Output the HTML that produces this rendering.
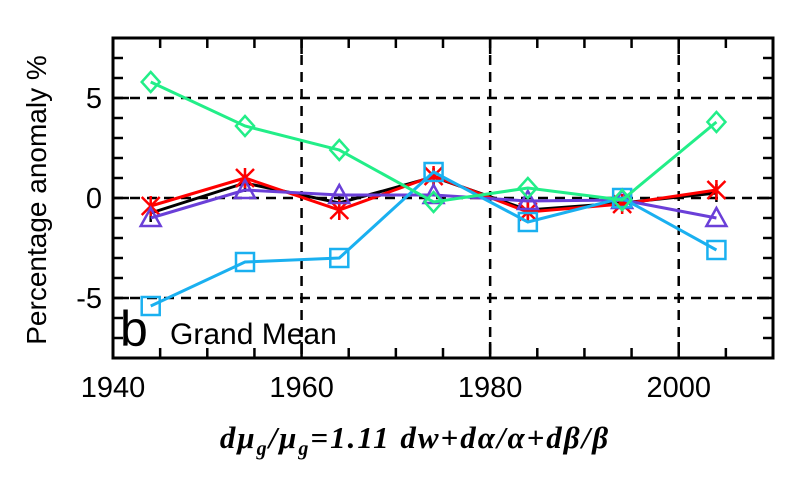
<!DOCTYPE html>
<html><head><meta charset="utf-8"><style>
body{margin:0;background:#fff}
svg text{font-family:"Liberation Sans",sans-serif}
</style></head><body>
<svg id="chart" width="794" height="481" viewBox="0 0 794 481" xmlns="http://www.w3.org/2000/svg">
<g id="grid"></g>
<g id="series"></g>
<g id="axes"></g>
<text x="120" y="346" font-size="50">b</text>
<text x="170" y="344" font-size="30">Grand Mean</text>
<text transform="translate(46,200) rotate(-90)" text-anchor="middle" font-size="28">Percentage anomaly %</text>
<text x="415" y="448" text-anchor="middle" font-size="31" font-weight="bold" font-style="italic" letter-spacing="2" style="font-family:'Liberation Serif',serif">dμ<tspan font-size="20" dy="7">g</tspan><tspan dy="-7">/μ</tspan><tspan font-size="20" dy="7">g</tspan><tspan dy="-7">=1.11 dw+dα/α+dβ/β</tspan></text>
</svg>
<script>
const years=[1944,1954,1964,1974,1984,1994,2004];
const greenVals=[5.8,3.6,2.4,-0.2,0.5,-0.1,3.8];
const blueVals=[-5.4,-3.2,-3.0,1.3,-1.2,0,-2.6];
const redVals=[-0.4,1.0,-0.6,1.1,-0.7,-0.3,0.4];
const blackVals=[-0.75,0.75,-0.25,1.05,-0.6,-0.25,0.25];
const purpleVals=[-1.0,0.4,0.15,0.15,-0.15,-0.1,-1.0];
const xTicks=[1940,1960,1980,2000];
const yTicks=[-5,0,5];
const L=113,R=773,T=38,B=358,X0=1940,X1=2010,Y0=-8,Y1=8;
const sx=v=>L+(v-X0)/(X1-X0)*(R-L);
const sy=v=>B-(v-Y0)/(Y1-Y0)*(B-T);
const NS="http://www.w3.org/2000/svg";
function mk(tag,attrs,parent){const e=document.createElementNS(NS,tag);for(const k in attrs)e.setAttribute(k,attrs[k]);parent.appendChild(e);return e;}
const grid=document.getElementById('grid'),axes=document.getElementById('axes'),ser=document.getElementById('series');
xTicks.forEach(t=>{if(t>X0){const l=mk('line',{x1:sx(t),x2:sx(t),y1:T,y2:B,stroke:'#000','stroke-width':2.5,'stroke-dasharray':'10,7'},grid);

}
const tx=mk('text',{x:sx(t),y:397,'text-anchor':'middle','font-size':29},axes);tx.textContent=t;

});
yTicks.forEach(t=>{const l=mk('line',{x1:L,x2:R,y1:sy(t),y2:sy(t),stroke:'#000','stroke-width':2.5,'stroke-dasharray':'10,7'},grid);


const tx=mk('text',{x:102,y:sy(t)+10,'text-anchor':'end','font-size':29},axes);tx.textContent=t;

});
for(let y=X0+5;y<X1;y+=5){const len=(y%20===0)?16:10;
mk('line',{x1:sx(y),x2:sx(y),y1:B,y2:B-len,stroke:'#000','stroke-width':2.5},axes);
mk('line',{x1:sx(y),x2:sx(y),y1:T,y2:T+len,stroke:'#000','stroke-width':2.5},axes);}
for(let v=Y0+1;v<Y1;v++){const len=(v%5===0)?16:10;
mk('line',{x1:L,x2:L+len,y1:sy(v),y2:sy(v),stroke:'#000','stroke-width':2.5},axes);
mk('line',{x1:R,x2:R-len,y1:sy(v),y2:sy(v),stroke:'#000','stroke-width':2.5},axes);}
const fr=mk('rect',{x:L,y:T,width:R-L,height:B-T,fill:'none',stroke:'#000','stroke-width':3},axes);


function line(vals,color,name,marker){
 const g=mk('g',{},ser);
 
 
 mk('polyline',{points:vals.map((v,i)=>sx(years[i])+','+sy(v)).join(' '),fill:'none',stroke:color,'stroke-width':3},g);
 vals.forEach((v,i)=>{const x=sx(years[i]),y=sy(v);let m;
  if(marker==='diamond')m=mk('polygon',{points:`${x},${y-10} ${x+9},${y} ${x},${y+10} ${x-9},${y}`,fill:'none',stroke:color,'stroke-width':2.5},g);
  else if(marker==='square')m=mk('rect',{x:x-9,y:y-9,width:18,height:18,fill:'none',stroke:color,'stroke-width':2.5},g);
  else if(marker==='triangle')m=mk('polygon',{points:`${x},${y-10} ${x+10},${y+8} ${x-10},${y+8}`,fill:'none',stroke:color,'stroke-width':2.5},g);
  else if(marker==='x')m=mk('path',{d:`M${x-9},${y-9}L${x+9},${y+9}M${x-9},${y+9}L${x+9},${y-9}M${x},${y-10}L${x},${y+10}`,stroke:color,'stroke-width':2.5},g);
  else if(marker==='plus')m=mk('path',{d:`M${x},${y-9}L${x},${y+9}`,stroke:color,'stroke-width':2.5},g);
  
  });
}
line(blackVals,'#000','black-series','plus');
line(redVals,'#f00','red-series','x');
line(purpleVals,'#6a3fd8','purple-series','triangle');
line(blueVals,'#1ab0f0','blue-series','square');
line(greenVals,'#22ee88','green-series','diamond');
</script>
</body></html>
